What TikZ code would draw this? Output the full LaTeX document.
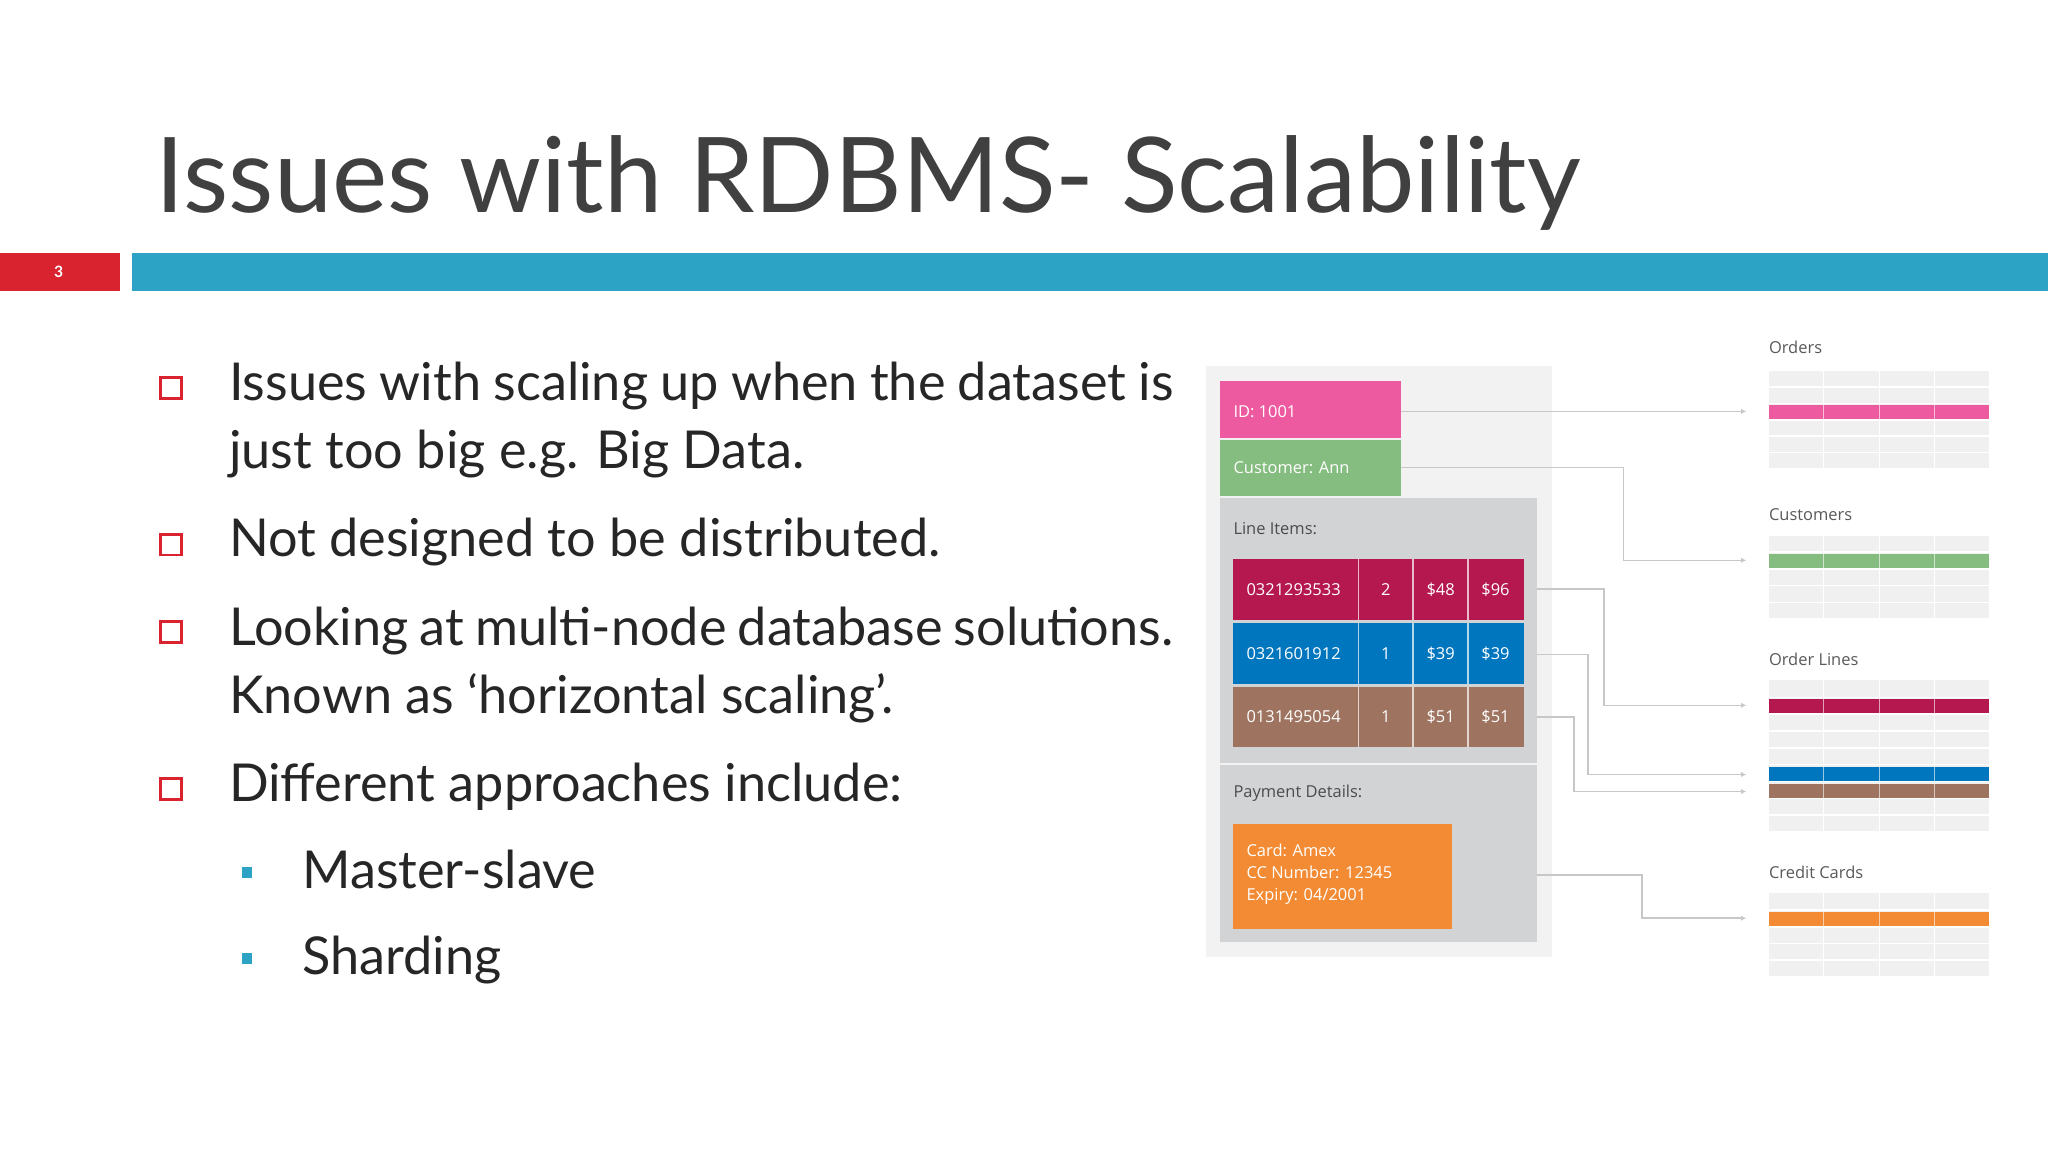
\documentclass[tikz,border=0pt]{standalone}
\usepackage{fontspec}
\setmainfont{Lato}
\newfontfamily\dfont{Open Sans}
\begin{document}
\begin{tikzpicture}[x=0.5pt,y=-0.5pt,
  btxt/.style={anchor=base west,inner sep=0pt,font=\fontsize{20}{24}\selectfont,text=black!85},
  dtxt/.style={anchor=west,inner sep=0pt,font=\dfont\fontsize{6.3}{8}\selectfont,text=white},
  lbl/.style={anchor=west,inner sep=0pt,font=\dfont\fontsize{6.3}{8}\selectfont,text=black!65},
  conn/.style={draw=black!22,line width=0.6pt,-{Latex[length=2pt,width=2pt]}}]
\usetikzlibrary{arrows.meta}
\definecolor{teal}{HTML}{2CA3C5}
\definecolor{slred}{HTML}{D9232E}
\useasboundingbox[fill=white] (0,0) rectangle (1568,882);
% title
\node[anchor=base west,inner sep=0pt,font=\fontsize{40}{48}\selectfont,text=black!75] (title) at (119,163) {Issues with RDBMS- Scalability};
\fill[slred] (0,194) rectangle (92,223);
\node[font=\bfseries\fontsize{6}{7}\selectfont,text=white] (num) at (45,208) {3};
\fill[teal] (101,194) rectangle (1568,223);
% bullets
\foreach \y/\n in {297/b1,417/b2,484/b3,604/b4}{
  \node[draw=slred,line width=1pt,minimum size=8pt,inner sep=0pt] (\n) at (131,\y) {};}
\node[btxt] (t1) at (175,307) {\makebox[361.5pt][s]{Issues with scaling up when the dataset is}};
\node[btxt] (t1b) at (175,359) {just too big e.g. Big Data.};
\node[btxt] (t2) at (175,426) {Not designed to be distributed.};
\node[btxt] (t3) at (175,494) {\makebox[361.5pt][s]{Looking at multi-node database solutions.}};
\node[btxt] (t3b) at (175,546) {Known as ‘horizontal scaling’.};
\node[btxt] (t4) at (175,614) {Different approaches include:};
\fill[teal] (185,664) rectangle (193,672);
\fill[teal] (185,730) rectangle (193,738);
\node[btxt] (s1) at (231,680) {Master-slave};
\node[btxt] (s2) at (231,746) {Sharding};
% diagram
\definecolor{pinkc}{HTML}{EE5A9F}\definecolor{greenc}{HTML}{85BC7F}
\definecolor{redc}{HTML}{B5184F}\definecolor{bluec}{HTML}{0076BF}
\definecolor{brownc}{HTML}{9E7360}\definecolor{orangec}{HTML}{F28B33}
\definecolor{panel}{HTML}{D2D3D5}
\fill[black!5] (923,280) rectangle (1188,733);
\fill[pinkc] (934,292) rectangle (1073,335);
\fill[greenc] (934,337) rectangle (1073,380);
\fill[panel] (934,381) rectangle (1177,584);
\fill[panel] (934,586) rectangle (1177,721);
\node[dtxt] (id) at (944,315) {ID: 1001};
\node[dtxt] (cust) at (944,358) {Customer: Ann};
\node[lbl,text=black!70] (li) at (944,405) {Line Items:};
\node[lbl,text=black!70] (pd) at (944,607) {Payment Details:};
\foreach \ya/\yb/\c/\a/\b/\cc/\d in {428/475/redc/0321293533/2/\$48/\$96,477/524/bluec/0321601912/1/\$39/\$39,526/572/brownc/0131495054/1/\$51/\$51}{
  \fill[\c] (944,\ya) rectangle (1167,\yb);
  \foreach \x in {1040,1082,1124} \draw[white!70!\c,line width=0.6pt] (\x,\ya) -- (\x,\yb);
  \node[dtxt] at (954,{(\ya+\yb)/2}) {\a};
  \node[dtxt,anchor=center] at (1061,{(\ya+\yb)/2}) {\b};
  \node[dtxt,anchor=center] at (1103,{(\ya+\yb)/2}) {\cc};
  \node[dtxt,anchor=center] at (1145,{(\ya+\yb)/2}) {\d};
}
\fill[orangec] (944,631) rectangle (1112,711);
\node[dtxt,align=left,anchor=north west,font=\dfont\fontsize{6.3}{8.4}\selectfont] (card) at (954,646) {Card: Amex\\CC Number: 12345\\Expiry: 04/2001};
% tables
\foreach \ya/\yb/\lab/\ly in {284/359/Orders/266,410/474/Customers/394,521/637/Order Lines/505,684/748/Credit Cards/668}{
  \fill[black!6] (1354,\ya) rectangle (1523,\yb);
  \node[lbl] at (1354,\ly) {\lab};
}
\foreach \ya/\yb in {284/359,410/474,521/637,684/748}{
  \pgfmathsetmacro{\n}{int(round((\yb-\ya)/12.8))}
  \foreach \i in {1,...,\n} \draw[white,line width=0.6pt] (1354,{\ya+\i*(\yb-\ya)/(\n+0)}) -- (1523,{\ya+\i*(\yb-\ya)/(\n+0)});
  \foreach \x in {1396,1439,1481} \draw[white,line width=0.6pt] (\x,\ya) -- (\x,\yb);
}
\foreach \ya/\c in {310/pinkc,424/greenc,535/redc,587/bluec,600/brownc,698/orangec}{
  \fill[\c] (1354,\ya) rectangle (1523,\ya+11);
  \foreach \x in {1396,1439,1481} \draw[white!60!\c,line width=0.6pt] (\x,\ya) -- (\x,\ya+11);
}
% connectors
\coordinate (e1) at (1337,315); \coordinate (e2) at (1337,429);
\coordinate (e3) at (1337,540); \coordinate (e4) at (1337,593);
\coordinate (e5) at (1337,606); \coordinate (e6) at (1337,703);
\coordinate (s1a) at (1073,315); \coordinate (s2a) at (1073,358);
\coordinate (s3a) at (1177,451); \coordinate (s4a) at (1177,501);
\coordinate (s5a) at (1177,549); \coordinate (s6a) at (1177,670);
\draw[conn] (s1a) -- (e1);
\draw[conn] (s2a) -- (1243,358) -- (1243,429) -- (e2);
\draw[conn] (s3a) -- (1228,451) -- (1228,540) -- (e3);
\draw[conn] (s4a) -- (1216,501) -- (1216,593) -- (e4);
\draw[conn] (s5a) -- (1205,549) -- (1205,606) -- (e5);
\draw[conn] (s6a) -- (1257,670) -- (1257,703) -- (e6);
\end{tikzpicture}
\end{document}
